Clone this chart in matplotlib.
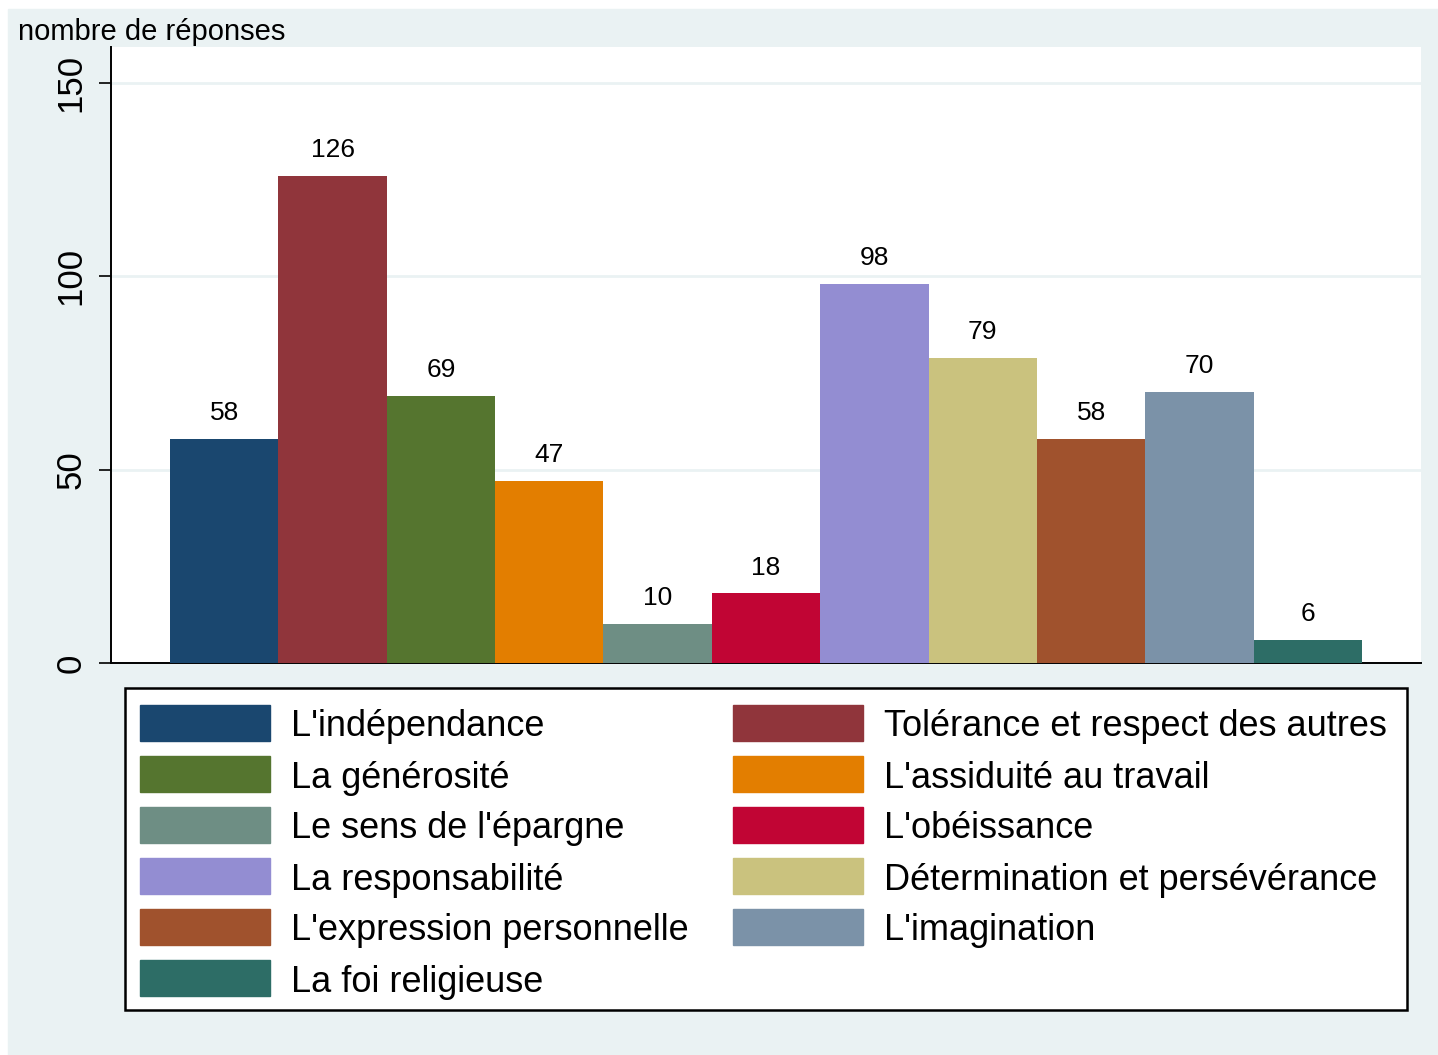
import matplotlib.pyplot as plt
from matplotlib.patches import Rectangle

plt.rcParams['font.family'] = ['Liberation Sans', 'DejaVu Sans']

labels = ["L'indépendance", "Tolérance et respect des autres", "La générosité",
          "L'assiduité au travail", "Le sens de l'épargne", "L'obéissance",
          "La responsabilité", "Détermination et persévérance",
          "L'expression personnelle", "L'imagination", "La foi religieuse"]
values = [58, 126, 69, 47, 10, 18, 98, 79, 58, 70, 6]
colors = ['#1A476F', '#90353B', '#55752F', '#E37E00', '#6E8E84', '#C10534',
          '#938DD2', '#CAC27E', '#A0522D', '#7B92A8', '#2D6D66']
yticks = [0, 50, 100, 150]

W, H = 1438, 1055
fig = plt.figure(figsize=(W / 100, H / 100), dpi=100, facecolor='white')
bg = '#EAF2F3'
fig.patches.append(Rectangle((8 / W, 0), 1 - 8 / W, 1 - 9 / H,
                             transform=fig.transFigure, color=bg, zorder=-10))

ax = fig.add_axes([111 / W, (H - 663) / H, (1421 - 111) / W, (663 - 47) / H])
ax.set_facecolor('white')

x = list(range(len(values)))
ax.bar(x, values, width=1.0, color=colors, zorder=3)
for xi, v in zip(x, values):
    ax.annotate(str(v), (xi, v), xytext=(0, 10), textcoords='offset points',
                ha='center', va='bottom', fontsize=19)

ax.set_xlim(-0.5 - 0.544, 10.5 + 0.544)
ax.set_ylim(0, 159.3)
ax.set_xticks([])
ax.set_yticks(yticks)
ax.set_yticklabels([str(t) for t in yticks], rotation=90, va='center', fontsize=25)
ax.tick_params(axis='y', length=9, width=1.2, pad=8)
ax.grid(axis='y', color=bg, linewidth=2, zorder=0)
for s in ['top', 'right']:
    ax.spines[s].set_visible(False)
for s in ['left', 'bottom']:
    ax.spines[s].set_linewidth(1.4)

fig.text(18 / W, 1 - 32 / H, 'nombre de réponses', fontsize=21, va='center', ha='left')

# legend box, two columns filled row by row
fig.patches.append(Rectangle((125 / W, 1 - 1010 / H), (1407 - 125) / W, (1010 - 688) / H,
                             transform=fig.transFigure, facecolor='white',
                             edgecolor='black', linewidth=1.8, zorder=1))
col_x = [140, 733]
for i, (lab, c) in enumerate(zip(labels, colors)):
    r, col = divmod(i, 2)
    yc = 723 + r * 51
    sx = col_x[col]
    fig.patches.append(Rectangle((sx / W, 1 - (yc + 18) / H), 130 / W, 36 / H,
                                 transform=fig.transFigure, color=c, zorder=2))
    fig.text((sx + 151) / W, 1 - yc / H, lab, fontsize=26, va='center_baseline',
             ha='left', zorder=3)

fig.savefig('out.png', dpi=100, facecolor=fig.get_facecolor())
